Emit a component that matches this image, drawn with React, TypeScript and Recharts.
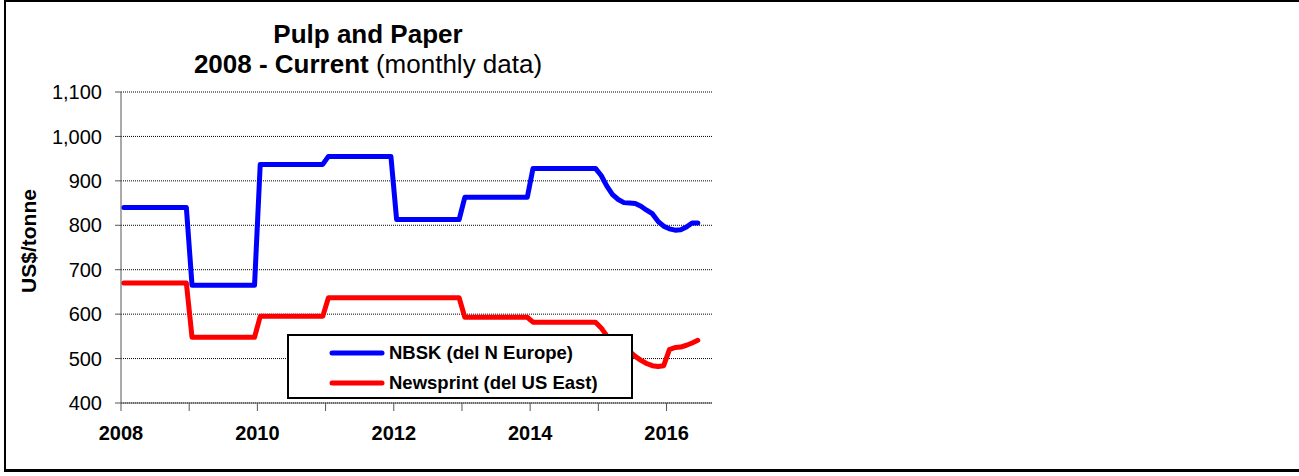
import React from 'react';
import { LineChart, Line, XAxis, YAxis, CartesianGrid, Label } from 'recharts';

const FONT = '"Liberation Sans", Arial, Helvetica, sans-serif';

// monthly prices, Jan 2008 .. Jun 2016 (US$/tonne)
const startYear = 2008;
const yearTicks = [2008, 2009, 2010, 2011, 2012, 2013, 2014, 2015, 2016];
const valueTicks = [400, 500, 600, 700, 800, 900, 1000, 1100];

const nbsk = [
  840, 840, 840, 840, 840, 840, 840, 840, 840, 840, 840, 840, // 2008
  665, 665, 665, 665, 665, 665, 665, 665, 665, 665, 665, 665, // 2009
  937, 937, 937, 937, 937, 937, 937, 937, 937, 937, 937, 937, // 2010
  955, 955, 955, 955, 955, 955, 955, 955, 955, 955, 955, 955, // 2011
  813, 813, 813, 813, 813, 813, 813, 813, 813, 813, 813, 813, // 2012
  863, 863, 863, 863, 863, 863, 863, 863, 863, 863, 863, 863, // 2013
  928, 928, 928, 928, 928, 928, 928, 928, 928, 928, 928, 928, // 2014
  912, 888, 869, 858, 851, 850, 849, 843, 834, 826, 809, 798, // 2015
  792, 789, 790, 796, 805, 805, // 2016
];

const newsprint = [
  670, 670, 670, 670, 670, 670, 670, 670, 670, 670, 670, 670, // 2008
  548, 548, 548, 548, 548, 548, 548, 548, 548, 548, 548, 548, // 2009
  595, 595, 595, 595, 595, 595, 595, 595, 595, 595, 595, 595, // 2010
  637, 637, 637, 637, 637, 637, 637, 637, 637, 637, 637, 637, // 2011
  637, 637, 637, 637, 637, 637, 637, 637, 637, 637, 637, 637, // 2012
  593, 593, 593, 593, 593, 593, 593, 593, 593, 593, 593, 593, // 2013
  582, 582, 582, 582, 582, 582, 582, 582, 582, 582, 582, 582, // 2014
  569, 551, 540, 530, 522, 516, 505, 496, 489, 484, 482, 484, // 2015
  520, 525, 526, 530, 535, 541, // 2016
];

const series = [
  { key: 'nbsk', name: 'NBSK (del N Europe)', color: '#0000FF' },
  { key: 'newsprint', name: 'Newsprint (del US East)', color: '#FF0000' },
];

// each monthly point sits in the middle of its month on the year axis
const data = nbsk.map((v, i) => ({
  x: startYear + (i + 0.5) / 12,
  nbsk: v,
  newsprint: newsprint[i],
}));

function AxisTitle() {
  return (
    <text
      x={28}
      y={241}
      transform="rotate(-90, 28, 241)"
      textAnchor="middle"
      dominantBaseline="central"
      fontFamily={FONT}
      fontSize={21}
      fontWeight="bold"
      fill="#000"
    >
      US$/tonne
    </text>
  );
}

export default function App() {
  return (
    <div
      style={{
        position: 'absolute',
        left: 0,
        top: 0,
        width: 1299,
        height: 476,
        overflow: 'hidden',
        background: '#fff',
        fontFamily: FONT,
      }}
    >
      <div
        style={{
          position: 'absolute',
          left: 4,
          top: 0,
          width: 1400,
          height: 472,
          boxSizing: 'border-box',
          borderTop: '2px solid #000',
          borderLeft: '2px solid #000',
          borderBottom: '3px solid #000',
        }}
      />

      <div
        style={{
          position: 'absolute',
          left: 168,
          top: 19,
          width: 400,
          textAlign: 'center',
          fontSize: 26,
          lineHeight: '30px',
          color: '#000',
        }}
      >
        <div style={{ fontWeight: 'bold' }}>Pulp and Paper</div>
        <div>
          <b>2008 - Current</b> (monthly data)
        </div>
      </div>

      <div style={{ position: 'absolute', left: 0, top: 0 }}>
        <LineChart width={1299} height={476} data={data} margin={{ top: 92, right: 587, bottom: 0, left: 0 }}>
          <CartesianGrid vertical={false} stroke="#000" strokeDasharray="1 1" />
          <XAxis
            dataKey="x"
            type="number"
            domain={[2008, 2016 + 8 / 12]}
            ticks={yearTicks}
            interval={0}
            allowDataOverflow
            tickFormatter={(v: number) => (v % 2 === 0 ? String(v) : '')}
            tick={{ fontSize: 20, fontWeight: 'bold', fill: '#000', fontFamily: FONT }}
            tickSize={8}
            tickMargin={15}
            stroke="#555"
            height={73}
          />
          <YAxis
            type="number"
            domain={[400, 1100]}
            ticks={valueTicks}
            interval={0}
            tickFormatter={(v: number) => v.toLocaleString('en-US')}
            tick={{ fontSize: 20, fill: '#000', fontFamily: FONT }}
            tickSize={6}
            tickMargin={13}
            stroke="#555"
            width={121}
          >
            <Label content={<AxisTitle />} />
          </YAxis>
          {series.map((s) => (
            <Line
              key={s.key}
              dataKey={s.key}
              name={s.name}
              type="linear"
              stroke={s.color}
              strokeWidth={5}
              strokeLinejoin="round"
              strokeLinecap="round"
              dot={false}
              activeDot={false}
              isAnimationActive={false}
            />
          ))}
        </LineChart>
      </div>

      <div
        style={{
          position: 'absolute',
          left: 287,
          top: 334,
          width: 346,
          height: 65,
          boxSizing: 'border-box',
          border: '2px solid #000',
          background: '#fff',
          paddingTop: 2,
        }}
      >
        {series.map((s) => (
          <div key={s.key} style={{ display: 'flex', alignItems: 'center', height: 30 }}>
            <svg width={100} height={10} style={{ flex: 'none' }}>
              <line x1={43} y1={5} x2={93} y2={5} stroke={s.color} strokeWidth={5} strokeLinecap="round" />
            </svg>
            <span style={{ fontSize: 18.5, fontWeight: 'bold', color: '#000', whiteSpace: 'nowrap' }}>{s.name}</span>
          </div>
        ))}
      </div>
    </div>
  );
}
